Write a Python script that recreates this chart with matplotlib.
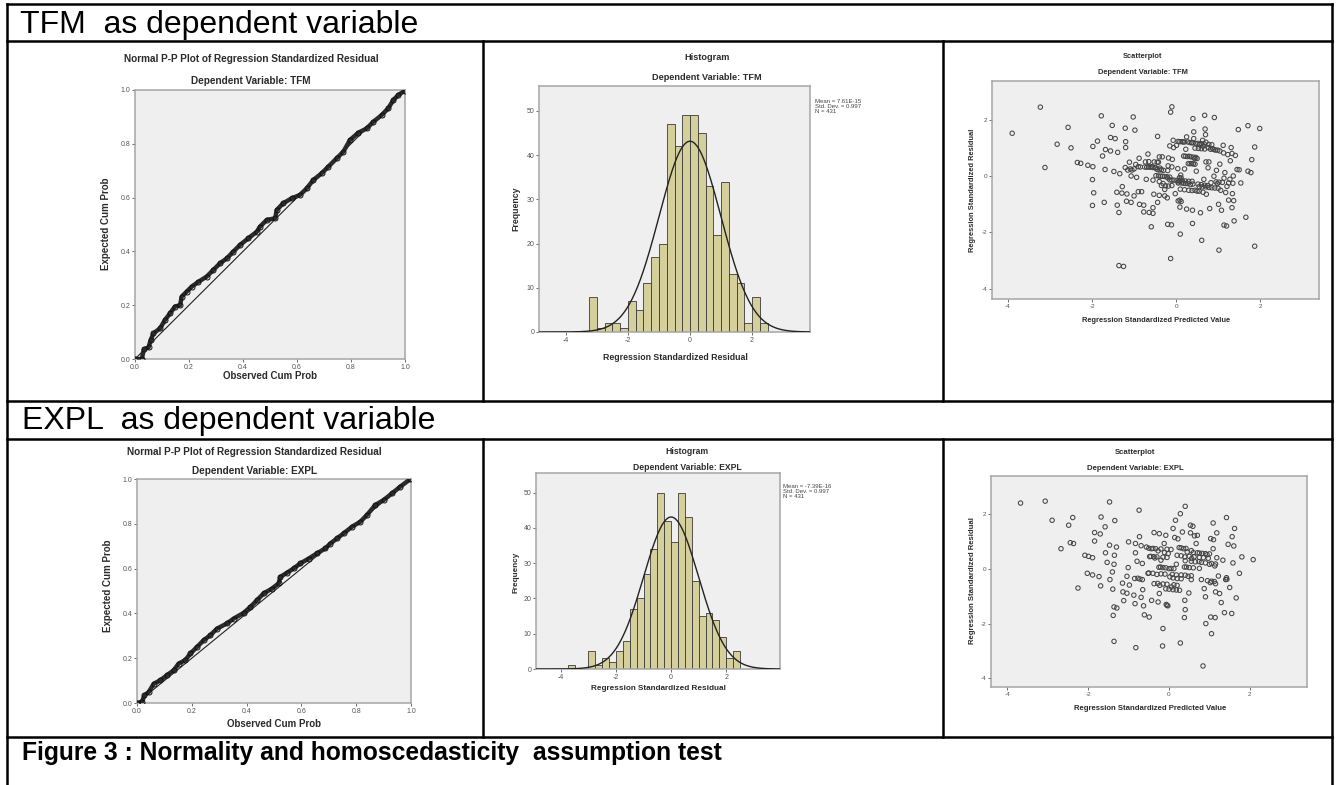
import numpy as np
import matplotlib.pyplot as plt

W, H = 1338, 785
plt.rcParams['font.family'] = ['Liberation Sans', 'DejaVu Sans']
plt.rcParams['axes.unicode_minus'] = False

# ---- Normal P-P plots (observed vs expected cumulative probability) ----
tfm_pp_obs = [0.0, 0.025, 0.033, 0.05, 0.058, 0.068, 0.093, 0.111, 0.13, 0.148, 0.167, 0.173,
              0.191, 0.21, 0.235, 0.265, 0.29, 0.315, 0.34, 0.364, 0.389, 0.42, 0.451, 0.463,
              0.488, 0.519, 0.525, 0.549, 0.58, 0.611, 0.636, 0.66, 0.691, 0.716, 0.747, 0.772,
              0.796, 0.827, 0.858, 0.883, 0.914, 0.938, 0.957, 0.975, 1.0]
tfm_pp_exp = [0.0, 0.0, 0.036, 0.043, 0.07, 0.095, 0.114, 0.145, 0.17, 0.195, 0.2, 0.232,
              0.25, 0.269, 0.287, 0.306, 0.331, 0.356, 0.374, 0.399, 0.424, 0.449, 0.473, 0.492,
              0.517, 0.523, 0.554, 0.579, 0.597, 0.61, 0.634, 0.665, 0.69, 0.715, 0.746, 0.771,
              0.814, 0.841, 0.857, 0.882, 0.907, 0.932, 0.963, 0.981, 0.998]

expl_pp_obs = [0.0, 0.018, 0.027, 0.043, 0.061, 0.085, 0.109, 0.134, 0.152, 0.176, 0.195, 0.219,
               0.243, 0.268, 0.292, 0.328, 0.353, 0.389, 0.414, 0.438, 0.462, 0.493, 0.517, 0.523,
               0.547, 0.572, 0.596, 0.627, 0.657, 0.687, 0.706, 0.73, 0.754, 0.785, 0.815, 0.839,
               0.87, 0.9, 0.931, 0.961, 0.998]
expl_pp_exp = [0.0, 0.004, 0.034, 0.049, 0.086, 0.101, 0.124, 0.146, 0.176, 0.191, 0.221, 0.25,
               0.28, 0.303, 0.332, 0.355, 0.377, 0.402, 0.429, 0.459, 0.489, 0.511, 0.534, 0.563,
               0.581, 0.601, 0.623, 0.645, 0.668, 0.69, 0.712, 0.735, 0.757, 0.787, 0.809, 0.839,
               0.884, 0.906, 0.936, 0.966, 1.0]

# ---- Histograms of standardized residuals ----
bin_width = 0.25
tfm_hist_start = -3.25
tfm_hist_counts = [8, 1, 2, 2, 1, 7, 5, 11, 17, 20, 47, 42, 49, 49, 45, 33, 22, 34, 13, 11, 2, 8, 2]
expl_hist_start = -3.75
expl_hist_counts = [1, 0, 0, 5, 1, 3, 2, 5, 8, 17, 20, 27, 34, 50, 42, 36, 50, 43, 25, 15, 16, 14,
                    9, 3, 5]
tfm_stats = {'mean': 7.61e-15, 'sd': 0.997, 'n': 431, 'mean_txt': '7.61E-15'}
expl_stats = {'mean': -7.39e-16, 'sd': 0.997, 'n': 431, 'mean_txt': '-7.39E-16'}

# ---- Scatterplots: predicted value vs residual ----
tfm_pred = [-3.9, -3.23, -3.12, -2.83, -2.57, -2.5, -2.35, -2.27, -2.1, -1.98, -1.98, -1.99, -1.96,
            -1.99, -1.87, -1.78, -1.75, -1.68, -1.69, -1.71, -1.56, -1.45, -1.52, -1.56, -1.48,
            -1.39, -1.41, -1.4, -1.36, -1.34, -1.29, -1.28, -1.36, -1.25, -1.21, -1.2, -1.2, -1.21,
            -1.17, -1.18, -1.11, -1.09, -1.07, -1.07, -1.02, -0.98, -1.0, -1.0, -0.96, -0.94, -0.88,
            -0.9, -0.82, -0.87, -0.77, -0.77, -0.73, -0.71, -0.67, -0.66, -0.64, -0.58, -0.55,
            -0.55, -0.59, -0.52, -0.5, -0.55, -0.53, -0.45, -0.44, -0.42, -0.4, -0.4, -0.44, -0.4,
            -0.35, -0.33, -0.33, -0.31, -0.27, -0.27, -0.21, -0.2, -0.18, -0.19, -0.2, -0.15,
            -0.13, -0.1, -0.11, -0.13, -0.09, -0.1, -0.1, -0.1, -0.07, -0.06, -0.02, 0.01, 0.04,
            0.05, 0.09, 0.09, 0.09, 0.1, 0.11, 0.13, 0.17, 0.18, 0.2, 0.23, 0.23, 0.25, 0.25, 0.28,
            0.29, 0.31, 0.34, 0.37, 0.37, 0.39, 0.39, 0.4, 0.42, 0.42, 0.44, 0.45, 0.47, 0.48, 0.5,
            0.52, 0.55, 0.56, 0.58, 0.61, 0.63, 0.64, 0.64, 0.66, 0.68, 0.69, 0.7, 0.71, 0.71,
            0.71, 0.72, 0.76, 0.76, 0.78, 0.8, 0.83, 0.87, 0.9, 0.91, 0.94, 0.96, 0.98, 1.01, 1.02,
            1.04, 1.04, 1.06, 1.08, 1.12, 1.13, 1.14, 1.14, 1.16, 1.18, 1.2, 1.21, 1.23, 1.25,
            1.28, 1.29, 1.31, 1.33, 1.33, 1.34, 1.36, 1.37, 1.38, 1.41, 1.45, 1.48, 1.5, 1.54,
            1.66, 1.71, 1.71, 1.8, 1.87, 1.87, 1.99, 1.78,
            0.05, 0.14, 0.2, 0.33, 0.4, 0.52, 0.6, 0.67, 0.78, 0.85,
            0.45, 0.53, 0.6, 0.68, 0.82, 0.9, 0.99,
            0.22, 0.27, 0.35, 0.41, 0.47,
            0.33, 0.41, 0.45,
            -0.9, -0.85, -0.75, -0.7, -0.62, -0.55, -0.48, -0.38,
            -1.15, -1.05, -0.4, -0.3, -0.2,
            -0.48, -0.42, -0.37, -0.28, -0.22, -0.15, 0.08, 0.12,
            -0.15, -0.05, 0.02, 0.08, 0.15, 0.22, 0.3, 0.38,
            0.05, 0.18, 0.28, 0.4, 0.6, 0.68, 0.75,
            0.55, 0.62, 0.78, 0.85, 0.92, 1.0,
            0.1, 0.2, 0.3, 0.38, 0.5,
            -0.35, -0.25, -0.18,
            0.95, 1.02, 1.1, 1.25, 1.35,
            -0.65, -0.45, 0.05, 0.12]
tfm_resid = [1.53, 2.46, 0.31, 1.14, 1.74, 1.01, 0.49, 0.46, 0.39, 0.34, 1.06, -0.12, -0.59,
             -1.04, 1.25, 2.15, 0.72, 0.95, 0.24, -0.93, 1.38, 1.34, 1.81, 0.9, 0.17, 0.85, -0.57,
             -1.03, -1.29, 0.09, -0.6, -0.37, -3.18, -3.21, 1.71, 1.23, 1.02, 0.31, -0.63, -0.89,
             0.5, 0.26, 0.01, -0.93, 2.11, 1.64, 0.26, -0.7, 0.42, -0.04, 0.64, -0.55, -0.55, -1.0,
             -1.03, -1.27, 0.51, -0.11, 0.79, 0.34, -1.29, 0.34, -1.12, -1.32, -1.8, 0.51, 0.3,
             -0.14, -0.64, 0.24, 1.42, 0.5, 0.69, -0.19, -0.93, -0.68, 0.23, 0.69, 0.0, -0.26,
             -0.47, -0.7, -0.77, -0.06, 0.65, 0.37, -1.71, 1.08, 2.28, 2.47, -1.73, -2.93, 0.6,
             0.33, -0.14, -0.33, 1.28, 1.02, -0.62, 1.1, 0.27, -0.2, 1.23, -0.85, -1.1, -2.06,
             0.04, -0.24, 1.22, 0.72, 0.26, 0.96, -0.26, 1.4, -1.17, 1.22, 0.45, 0.71, -0.3, 1.19,
             0.45, -1.21, -1.68, 2.05, 1.58, 1.34, 0.63, -0.5, 1.16, 0.18, 0.63, -0.28, -0.53,
             1.13, -1.3, -2.28, 1.28, 1.07, -0.57, -0.11, 2.17, 1.68, 1.48, 1.21, 0.51, -0.38,
             -0.64, 1.02, 0.3, 0.51, -1.15, -0.23, 0.98, 0.0, 2.09, 0.93, 0.21, -0.26, -1.0, -2.63,
             0.9, 0.43, -0.5, -1.21, 1.1, 0.83, -0.07, -1.74, 0.13, -0.58, -1.77, -0.36, 0.77,
             -0.85, -0.11, 0.55, 1.02, 0.81, -1.12, -0.62, 0.01, -0.87, -1.59, 0.74, 0.24, 1.66,
             0.23, -0.24, -1.46, 1.8, 0.18, 0.59, 1.04, -2.49, 1.7, 0.13,
             1.24, 1.23, 1.22, 1.2, 1.19, 1.17, 1.16, 1.15, 1.13, 1.12,
             1.0, 0.99, 0.98, 0.97, 0.96, 0.95, 0.93,
             0.71, 0.7, 0.69, 0.68, 0.67,
             0.45, 0.44, 0.43,
             0.34, 0.33, 0.33, 0.32, 0.32, 0.31, 0.3, 0.29,
             0.22, 0.22, 0.22, 0.21, 0.2,
             0.02, 0.01, 0.0, -0.01, -0.02, -0.03, -0.05, -0.06,
             -0.13, -0.14, -0.15, -0.16, -0.16, -0.17, -0.18, -0.18,
             -0.24, -0.25, -0.26, -0.28, -0.3, -0.32, -0.33,
             -0.37, -0.38, -0.4, -0.41, -0.42, -0.43,
             -0.46, -0.48, -0.5, -0.51, -0.53,
             -0.33, -0.34, -0.35,
             -0.2, -0.21, -0.22, -0.24, -0.25,
             0.52, 0.5, -0.88, -0.9]

expl_pred = [-3.67, -3.06, -2.89, -2.67, -2.48, -2.38, -2.44, -2.36, -2.25, -2.08, -1.99, -1.89,
             -2.02, -1.89, -1.73, -1.69, -1.84, -1.7, -1.84, -1.68, -1.58, -1.57, -1.53, -1.47,
             -1.47, -1.46, -1.4, -1.39, -1.36, -1.35, -1.34, -1.3, -1.36, -1.29, -1.38, -1.36,
             -1.15, -1.14, -1.12, -1.04, -1.0, -1.01, -1.04, -0.98, -0.87, -0.83, -0.83, -0.84,
             -0.82, -0.79, -0.77, -0.74, -0.73, -0.69, -0.66, -0.66, -0.65, -0.69, -0.63, -0.61,
             -0.56, -0.49, -0.52, -0.48, -0.44, -0.43, -0.37, -0.37, -0.35, -0.3, -0.27, -0.27,
             -0.24, -0.24, -0.23, -0.21, -0.2, -0.15, -0.16, -0.12, -0.11, -0.08, -0.07, -0.02,
             0.0, 0.02, 0.06, 0.1, 0.14, 0.16, 0.18, 0.22, 0.25, 0.26, 0.28, 0.28, 0.33, 0.36,
             0.39, 0.39, 0.4, 0.4, 0.38, 0.43, 0.47, 0.49, 0.53, 0.53, 0.55, 0.56, 0.59, 0.63,
             0.67, 0.7, 0.7, 0.74, 0.8, 0.84, 0.87, 0.9, 0.91, 0.94, 1.0, 1.02, 1.03, 1.05, 1.03,
             1.09, 1.09, 1.1, 1.13, 1.14, 1.15, 1.15, 1.18, 1.18, 1.22, 1.25, 1.29, 1.33, 1.37,
             1.42, 1.42, 1.46, 1.5, 1.55, 1.56, 1.58, 1.6, 1.62, 1.66, 1.74, 1.8, 2.08,
             -0.5, -0.4, -0.33, -0.2, -0.05, 0.05, 0.3, 0.42,
             -0.45, -0.38, -0.3, -0.15, -0.05, 0.2, 0.3, 0.5, 0.62, 0.75, 0.85, 0.97,
             0.45, 0.6, 0.75, 0.82, 0.9, 1.0,
             0.4, 0.55, 0.65, 0.8, 0.9, 1.05, 1.15,
             -0.25, -0.15, -0.08, 0.05, 0.12, 0.38, 0.5, 0.6, 0.75,
             -0.5, -0.4, -0.2, -0.1, 0.08, 0.18, 0.3, 0.4, 0.55,
             -0.85, -0.72, 0.1, 0.2, 0.3, 0.55,
             -0.28, -0.15, -0.05, 0.12, 0.2,
             -0.08, 0.0, 0.1, 0.18,
             0.95, 1.05, 1.12, 1.4, 1.43,
             -0.05, -0.03]
expl_resid = [2.41, 2.48, 1.78, 0.74, 1.6, 1.88, 0.96, 0.93, -0.7, 0.5, 0.46, 0.41, -0.16, -0.22,
              -0.28, -0.62, 1.33, 1.28, 1.02, 1.9, 1.54, 0.59, 0.24, 2.45, 0.87, -0.39, -0.11,
              -0.74, 0.17, 0.5, 1.77, 0.8, -1.39, -1.43, -1.7, -2.65, -0.52, -0.84, -1.16, -0.89,
              0.99, 0.05, -0.27, -0.59, -0.96, 0.93, 0.59, -1.27, -2.88, 0.28, -0.34, 2.15, 1.18,
              0.85, 0.2, -0.39, -0.76, -1.04, -1.35, -1.68, 0.8, -1.76, -0.16, 0.45, 0.74, -1.15,
              1.33, -0.54, 0.4, -0.2, 0.66, -1.21, 1.29, -0.9, -0.6, 0.07, 0.32, -2.18, -2.82,
              0.93, 0.6, 1.23, -1.3, 0.56, 0.01, -0.29, -0.66, 1.48, 1.15, 1.78, 0.17, 1.1, 0.78,
              -0.78, 2.02, -2.71, 1.35, 0.74, 0.44, -1.15, -1.49, 2.29, -1.78, 0.07, -0.27, -0.88,
              1.6, 1.32, 0.67, 0.38, 1.56, 1.21, 0.93, 1.23, 0.59, 0.27, -0.39, -3.55, -0.72,
              -1.02, -2.0, 0.52, 0.17, -0.5, 1.11, -2.37, -1.76, 1.68, 0.74, 1.07, 0.11, -1.78,
              -0.54, -0.84, 1.32, 0.41, -0.26, -0.9, -1.23, 0.32, -1.6, 1.88, -0.32, 0.9, -0.68,
              -1.63, 1.18, 0.22, 0.84, 1.48, -1.06, -0.16, 0.44, 0.34,
              0.76, 0.75, 0.74, 0.73, 0.72, 0.71, 0.77, 0.75,
              0.46, 0.45, 0.44, 0.43, 0.42, 0.5, 0.48, 0.46, 0.44, 0.42, 0.41, 0.39,
              0.62, 0.6, 0.58, 0.57, 0.56, 0.55,
              0.3, 0.28, 0.26, 0.24, 0.22, 0.2, 0.18,
              0.06, 0.05, 0.04, 0.02, 0.01, 0.07, 0.05, 0.04, 0.02,
              -0.15, -0.16, -0.18, -0.19, -0.2, -0.22, -0.22, -0.23, -0.25,
              -0.35, -0.37, -0.33, -0.35, -0.36, -0.39,
              -0.53, -0.55, -0.56, -0.58, -0.6,
              -0.73, -0.74, -0.76, -0.77,
              -0.43, -0.45, -0.46, -0.39, -0.38,
              -1.33, -1.35]

BAR_FACE = '#D5CF9C'
PANEL_BG = '#EFEFEF'
FRAME = '#A5A5A5'
TXT = '#2b2b2b'

fig = plt.figure(figsize=(W / 100, H / 100), dpi=100)
canvas = fig.add_axes([0, 0, 1, 1])
canvas.set_xlim(0, W)
canvas.set_ylim(H, 0)
canvas.axis('off')


def px_axes(left, top, right, bottom):
    return fig.add_axes([left / W, 1 - bottom / H, (right - left) / W, (bottom - top) / H])


def style_axes(ax, tick_size=5.0):
    ax.set_facecolor(PANEL_BG)
    for s in ax.spines.values():
        s.set_color(FRAME)
        s.set_linewidth(1.1)
    ax.tick_params(direction='out', length=2.5, width=0.6, color='#555555',
                   labelsize=tick_size, labelcolor='#555555', pad=1)


def panel_text(x, y, s, size, rotation=0):
    canvas.text(x, y, s, fontsize=size, fontweight='bold', color=TXT, ha='center',
                va='center', rotation=rotation)


# table rules
rule = dict(color='black', lw=1.8, solid_capstyle='projecting')
for y in [4, 41, 401, 439, 737]:
    canvas.plot([7, 1332], [y, y], **rule)
for x in [7, 1332]:
    canvas.plot([x, x], [4, 785], **rule)
for x in [483, 943]:
    canvas.plot([x, x], [41, 401], **rule)
    canvas.plot([x, x], [439, 737], **rule)

canvas.text(20, 33, 'TFM  as dependent variable', fontsize=23, ha='left', va='baseline')
canvas.text(22, 429, 'EXPL  as dependent variable', fontsize=23, ha='left', va='baseline')
canvas.text(22, 760, 'Figure 3 : Normality and homoscedasticity  assumption test',
            fontsize=17.7, fontweight='bold', ha='left', va='baseline')


def pp_panel(rect, obs, exp, dep, title_xy, sub_y, xlab_xy, ylab_xy):
    ax = px_axes(*rect)
    style_axes(ax)
    ax.plot([0, 1], [0, 1], color='#222222', lw=0.8, zorder=2)
    ax.plot(obs, exp, color='#2a2a2a', lw=3.2, solid_capstyle='round', zorder=3)
    ax.plot(obs, exp, 'o', ms=3.6, mfc='none', mec='#111111', mew=0.7, zorder=4)
    ax.set_xlim(0, 1)
    ax.set_ylim(0, 1)
    ticks = [0.0, 0.2, 0.4, 0.6, 0.8, 1.0]
    ax.set_xticks(ticks)
    ax.set_yticks(ticks)
    ax.set_xticklabels([f'{t:.1f}' for t in ticks])
    ax.set_yticklabels([f'{t:.1f}' for t in ticks])
    panel_text(title_xy[0], title_xy[1], 'Normal P-P Plot of Regression Standardized Residual', 7.2)
    panel_text(title_xy[0], sub_y, f'Dependent Variable: {dep}', 7.2)
    panel_text(*xlab_xy, 'Observed Cum Prob', 7.0)
    panel_text(*ylab_xy, 'Expected Cum Prob', 7.0, rotation=90)


def hist_panel(rect, xlim, start, counts, stats, dep, cx, title_y, sub_y, xlab_xy, ylab_xy,
               stats_xy, fs):
    ax = px_axes(*rect)
    style_axes(ax)
    edges = start + bin_width * np.arange(len(counts) + 1)
    ax.bar(edges[:-1], counts, width=bin_width, align='edge', color=BAR_FACE,
           edgecolor='#3a3a3a', linewidth=0.6, zorder=2)
    # fitted normal curve scaled to the histogram
    xs = np.linspace(xlim[0], xlim[1], 300)
    curve = stats['n'] * bin_width * np.exp(-0.5 * ((xs - stats['mean']) / stats['sd']) ** 2) \
        / (stats['sd'] * np.sqrt(2 * np.pi))
    ax.plot(xs, curve, color='#222222', lw=1.0, zorder=3)
    ax.set_xlim(*xlim)
    ax.set_ylim(0, 55.6)
    ax.set_xticks([-4, -2, 0, 2])
    ax.set_yticks([0, 10, 20, 30, 40, 50])
    panel_text(cx, title_y, 'Histogram', fs)
    panel_text(cx, sub_y, f'Dependent Variable: {dep}', fs)
    panel_text(*xlab_xy, 'Regression Standardized Residual', fs * 0.95)
    panel_text(*ylab_xy, 'Frequency', fs * 0.95, rotation=90)
    canvas.text(stats_xy[0], stats_xy[1],
                f"Mean = {stats['mean_txt']}\nStd. Dev. = {stats['sd']:.3f}\nN = {stats['n']}",
                fontsize=4.3, color='#444444', ha='left', va='top', linespacing=1.0)


def scatter_panel(rect, pred, resid, dep, cx, title_y, sub_y, xlab_xy, ylab_xy, xlim, ylim, fs):
    ax = px_axes(*rect)
    style_axes(ax, tick_size=4.6)
    ax.scatter(pred, resid, s=10, facecolors='none', edgecolors='#454545', linewidths=0.75,
               zorder=3)
    ax.set_xlim(*xlim)
    ax.set_ylim(*ylim)
    ax.set_xticks([-4, -2, 0, 2])
    ax.set_yticks([-4, -2, 0, 2])
    panel_text(cx, title_y, 'Scatterplot', fs)
    panel_text(cx, sub_y, f'Dependent Variable: {dep}', fs)
    panel_text(*xlab_xy, 'Regression Standardized Predicted Value', fs)
    panel_text(*ylab_xy, 'Regression Standardized Residual', fs, rotation=90)


# TFM row
pp_panel((135, 90, 405, 359), tfm_pp_obs, tfm_pp_exp, 'TFM', (251, 59), 81, (270, 376), (106, 224))
hist_panel((539, 86, 810, 332), (-4.87, 3.87), tfm_hist_start, tfm_hist_counts, tfm_stats, 'TFM',
           707, 58, 78, (675, 357), (516, 209), (815, 99), 6.6)
scatter_panel((992, 81, 1319, 299), tfm_pred, tfm_resid, 'TFM', 1143, 56, 73, (1156, 321),
              (972, 190), (-4.38, 3.4), (-4.37, 3.39), 5.4)

# EXPL row
pp_panel((137, 479, 411, 703), expl_pp_obs, expl_pp_exp, 'EXPL', (254, 452), 471, (274, 724),
         (108, 586))
hist_panel((536, 473, 780, 669), (-4.9, 3.95), expl_hist_start, expl_hist_counts, expl_stats,
           'EXPL', 687, 451, 467, (658, 689), (516, 572), (783, 484), 6.2)
scatter_panel((991, 476, 1307, 687), expl_pred, expl_resid, 'EXPL', 1135, 452, 468, (1150, 709),
              (972, 581), (-4.4, 3.41), (-4.32, 3.4), 5.6)

fig.savefig('out.png', dpi=100)
